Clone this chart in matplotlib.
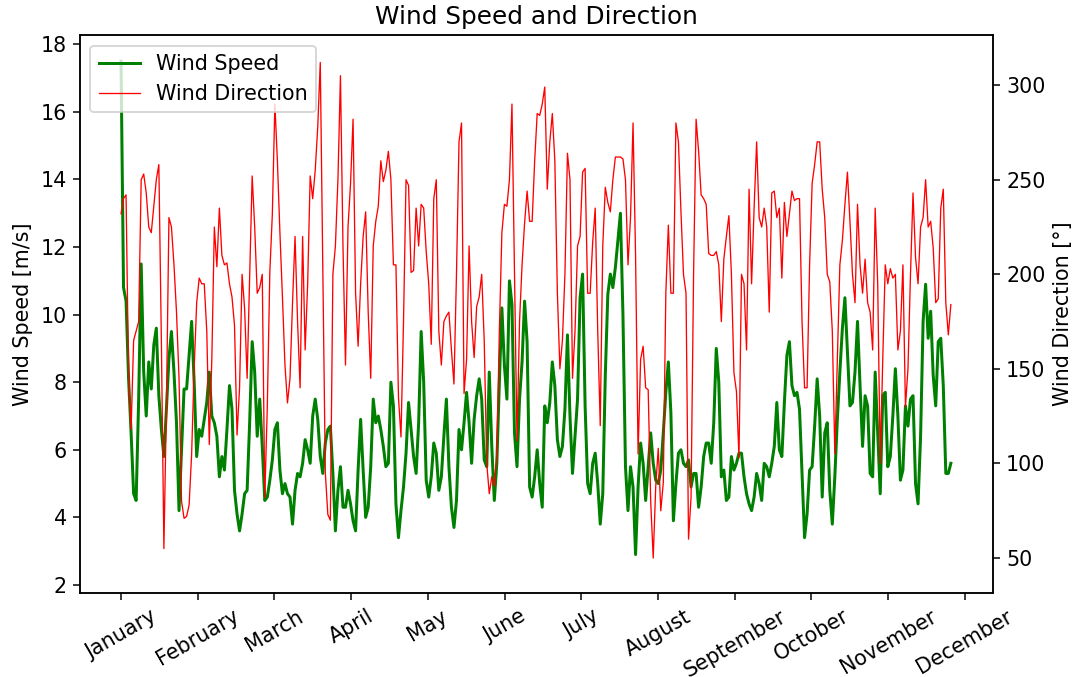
import numpy as np
import matplotlib
matplotlib.use("Agg")
import matplotlib.pyplot as plt

plt.rcParams["font.size"] = 11

# daily values, hour index on x (one value per 24 h)
wind_speed = [
    17.5, 10.8, 10.4, 8.1, 6.5, 4.7, 4.5, 7.5, 11.5, 8.3,
    7.0, 8.6, 7.8, 9.1, 9.6, 7.6, 6.6, 5.8, 7.2, 8.7,
    9.5, 8.3, 6.8, 4.2, 6.0, 7.8, 7.8, 8.8, 9.8, 8.0,
    5.8, 6.6, 6.4, 6.9, 7.4, 8.3, 7.0, 6.8, 6.4, 5.2,
    5.8, 5.4, 6.6, 7.9, 7.2, 4.8, 4.1, 3.6, 4.1, 4.7,
    4.8, 6.8, 9.2, 8.3, 6.4, 7.5, 6.1, 4.5, 4.6, 5.1,
    5.7, 6.6, 6.8, 5.4, 4.7, 5.0, 4.7, 4.6, 3.8, 4.8,
    5.3, 5.2, 5.6, 6.3, 6.0, 5.6, 7.0, 7.5, 6.9, 5.8,
    5.3, 6.2, 6.6, 6.7, 5.3, 3.6, 4.8, 5.5, 4.3, 4.3,
    4.8, 4.4, 3.9, 3.6, 5.4, 6.9, 5.4, 4.0, 4.3, 5.5,
    7.5, 6.8, 7.0, 6.6, 6.1, 5.5, 5.6, 8.0, 7.3, 4.4,
    3.4, 4.2, 4.9, 5.9, 7.4, 6.6, 5.8, 5.3, 6.8, 9.5,
    8.0, 5.1, 4.6, 5.2, 6.2, 5.9, 4.8, 5.2, 6.4, 7.5,
    5.5, 4.3, 3.7, 4.5, 6.6, 6.0, 6.8, 7.7, 6.8, 5.6,
    6.9, 7.6, 8.1, 7.5, 5.7, 5.5, 8.3, 6.1, 4.5, 5.6,
    8.0, 10.2, 8.5, 7.5, 11.0, 10.3, 6.5, 5.5, 7.5, 8.6,
    10.4, 9.2, 4.9, 4.6, 5.2, 6.0, 5.0, 4.3, 7.3, 6.8,
    7.4, 8.6, 7.9, 6.3, 5.8, 6.1, 7.2, 9.4, 7.0, 5.3,
    6.4, 7.5, 10.5, 11.2, 7.3, 5.0, 4.7, 5.6, 5.9, 5.0,
    3.8, 4.7, 8.2, 10.6, 11.2, 10.8, 11.4, 12.2, 13.0, 10.0,
    5.5, 4.2, 5.5, 4.9, 2.9, 4.9, 6.2, 5.6, 4.5, 5.5,
    6.5, 5.6, 5.1, 5.0, 5.4, 6.5, 7.7, 8.6, 7.1, 3.9,
    5.0, 5.9, 6.0, 5.6, 5.5, 5.7, 4.9, 5.3, 5.3, 4.3,
    4.9, 5.8, 6.2, 6.2, 5.6, 6.8, 9.0, 8.0, 5.2, 5.4,
    4.5, 4.6, 5.8, 5.4, 5.6, 5.9, 5.9, 5.2, 4.7, 4.4,
    4.2, 4.6, 5.3, 5.0, 4.5, 5.6, 5.5, 5.2, 5.6, 6.1,
    7.4, 6.0, 5.8, 7.4, 8.8, 9.2, 7.9, 7.6, 7.7, 7.2,
    5.3, 3.4, 4.1, 5.4, 5.5, 6.7, 8.1, 7.0, 4.6, 6.5,
    6.8, 4.8, 3.8, 5.2, 6.9, 8.3, 9.6, 10.5, 8.9, 7.3,
    7.4, 8.3, 9.8, 7.9, 6.1, 7.6, 7.3, 5.3, 5.2, 8.3,
    6.5, 4.7, 7.6, 7.7, 5.5, 5.8, 7.0, 8.4, 7.0, 5.1,
    5.4, 7.3, 6.7, 7.5, 7.6, 5.0, 4.4, 6.4, 9.8, 10.9,
    9.3, 10.1, 8.2, 7.3, 9.2, 9.3, 7.9, 5.3, 5.3, 5.6,
]

wind_dir = [
    232, 240, 242, 145, 118, 165, 170, 175, 250, 253,
    243, 225, 222, 236, 250, 258, 165, 55, 130, 230,
    225, 205, 180, 145, 80, 71, 72, 78, 105, 150,
    185, 198, 195, 195, 170, 110, 155, 225, 204, 235,
    210, 205, 206, 195, 188, 173, 115, 140, 200, 182,
    145, 198, 252, 225, 190, 193, 200, 82, 130, 201,
    232, 290, 260, 222, 188, 152, 132, 145, 185, 220,
    175, 140, 220, 160, 195, 252, 240, 255, 278, 312,
    202, 95, 73, 70, 200, 215, 250, 305, 215, 152,
    225, 248, 282, 190, 162, 195, 220, 233, 180, 145,
    215, 228, 236, 260, 249, 255, 265, 250, 205, 205,
    135, 114, 175, 250, 247, 201, 202, 235, 215, 237,
    235, 212, 195, 163, 240, 250, 170, 152, 175, 178,
    180, 160, 142, 200, 270, 280, 137, 155, 215, 175,
    156, 183, 188, 200, 165, 100, 84, 93, 88, 105,
    170, 222, 237, 236, 250, 290, 200, 112, 175, 205,
    227, 244, 228, 228, 260, 285, 284, 290, 299, 245,
    270, 285, 260, 190, 150, 165, 200, 264, 250, 145,
    170, 215, 220, 254, 256, 190, 190, 217, 235, 170,
    120, 215, 246, 238, 233, 250, 262, 262, 262, 261,
    250, 205, 230, 280, 210, 105, 155, 162, 140, 139,
    80, 50, 88, 108, 75, 90, 190, 226, 190, 190,
    280, 270, 233, 200, 190, 60, 82, 200, 282, 265,
    242, 240, 237, 211, 210, 210, 212, 205, 175, 208,
    220, 231, 200, 148, 138, 103, 200, 195, 160, 245,
    195, 235, 270, 230, 225, 235, 225, 180, 243, 244,
    230, 235, 198, 238, 220, 232, 244, 239, 240, 240,
    175, 140, 140, 205, 248, 258, 270, 270, 245, 230,
    200, 196, 170, 105, 155, 205, 218, 237, 254, 228,
    200, 185, 237, 205, 190, 208, 185, 180, 160, 235,
    195, 100, 155, 205, 195, 203, 198, 200, 160, 170,
    205, 130, 150, 200, 243, 209, 195, 225, 230, 250,
    225, 228, 214, 185, 187, 235, 245, 185, 168, 184,
]

months = ["January", "February", "March", "April", "May", "June", "July",
          "August", "September", "October", "November", "December"]

hours = np.arange(len(wind_speed)) * 24

fig, ax1 = plt.subplots(figsize=(1077 / 135, 677 / 135), dpi=135)
fig.subplots_adjust(left=0.0743, right=0.922, top=0.948, bottom=0.124)

l1, = ax1.plot(hours, wind_speed, color="green", lw=1.6, label="Wind Speed")
ax1.set_ylabel("Wind Speed [m/s]")
ax1.set_ylim(1.76, 18.27)
ax1.set_xlim(-390, 8297)

ax2 = ax1.twinx()
l2, = ax2.plot(hours, wind_dir, color="red", lw=0.7, label="Wind Direction")
ax2.set_ylabel("Wind Direction [°]")
ax2.set_ylim(31.5, 326.4)

ax1.set_xticks(np.arange(12) * 730)
ax1.set_xticklabels(months, rotation=30)

ax2.legend(handles=[l1, l2], loc="upper left")
plt.title("Wind Speed and Direction")

plt.savefig("out.png")
